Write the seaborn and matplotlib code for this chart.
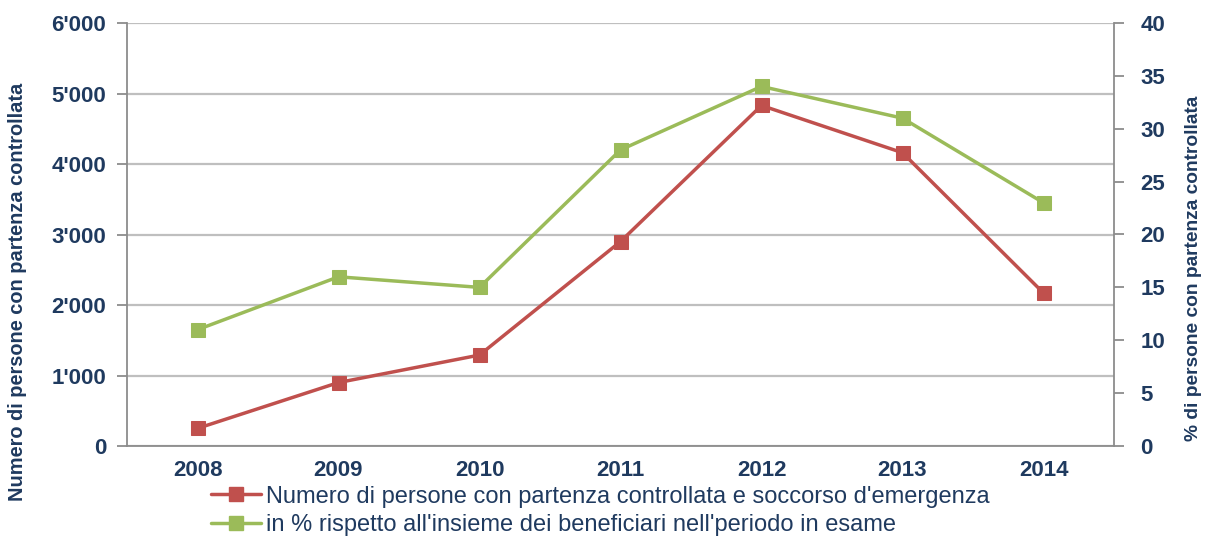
import matplotlib
matplotlib.use("Agg")
import matplotlib.pyplot as plt
from matplotlib import font_manager
from matplotlib.lines import Line2D
import seaborn as sns
import pandas as pd

# dati
years = ["2008", "2009", "2010", "2011", "2012", "2013", "2014"]
persone = [250, 900, 1290, 2900, 4830, 4160, 2170]
percentuale = [11, 16, 15, 28, 34, 31, 23]

left_ticks = [0, 1000, 2000, 3000, 4000, 5000, 6000]
left_ticklabels = ["0", "1'000", "2'000", "3'000", "4'000", "5'000", "6'000"]
right_ticks = [0, 5, 10, 15, 20, 25, 30, 35, 40]

label_persone = "Numero di persone con partenza controllata e soccorso d'emergenza"
label_perc = "in % rispetto all'insieme dei beneficiari nell'periodo in esame"
ylabel_left = "Numero di persone con partenza controllata"
ylabel_right = "% di persone con partenza controllata"

# stile
NAVY = "#1F3A5F"
RED = "#C0504D"
GREEN = "#9BBB59"
GRID = "#BFBFBF"
SPINE = "#8C8C8C"
TICK_FS = 16

sns.set_style("white")
plt.rcParams["font.family"] = ["Liberation Sans", "DejaVu Sans"]

installed = {f.name for f in font_manager.fontManager.ttflist}
narrow = "Liberation Sans Narrow" if "Liberation Sans Narrow" in installed else "Liberation Sans"

df = pd.DataFrame({"pos": range(len(years)), "anno": years,
                   "persone": persone, "perc": percentuale})

fig = plt.figure(figsize=(12.06, 5.36), dpi=100)
ax = fig.add_axes([127 / 1206, 1 - 446 / 536, (1114 - 127) / 1206, (446 - 23) / 536])
ax2 = ax.twinx()

sns.lineplot(data=df, x="pos", y="persone", ax=ax, color=RED, lw=2.5,
             marker="s", markersize=10, markeredgecolor=RED, legend=False)
sns.lineplot(data=df, x="pos", y="perc", ax=ax2, color=GREEN, lw=2.5,
             marker="s", markersize=10, markeredgecolor=GREEN, legend=False)

# assi
n = len(years)
ax.set_xlim(-0.5, n - 0.5)
ax.set_ylim(0, 6000)
ax2.set_ylim(0, 40)

ax.set_xticks([i - 0.5 for i in range(n + 1)])
ax.set_xticklabels([])
ax.set_xticks(range(n), minor=True)
ax.set_xticklabels(years, minor=True)
ax.tick_params(axis="x", which="major", length=7, width=1.3, color=SPINE, direction="out")
ax.tick_params(axis="x", which="minor", length=0, pad=10,
               labelsize=TICK_FS, labelcolor=NAVY)

ax.set_yticks(left_ticks)
ax.set_yticklabels(left_ticklabels)
ax.tick_params(axis="y", length=7, width=1.3, color=SPINE, direction="out",
               labelsize=TICK_FS, labelcolor=NAVY, pad=8)
ax2.set_yticks(right_ticks)
ax2.tick_params(axis="y", length=7, width=1.3, color=SPINE, direction="out",
                labelsize=TICK_FS, labelcolor=NAVY, pad=12)

for lab in ax.get_xticklabels(minor=True) + ax.get_yticklabels() + ax2.get_yticklabels():
    lab.set_fontweight("bold")

ax.yaxis.grid(True, color=GRID, lw=1.6)
ax.set_axisbelow(True)

for a in (ax, ax2):
    a.spines["top"].set_visible(False)
    for s in ("left", "right", "bottom"):
        a.spines[s].set_color(SPINE)
        a.spines[s].set_linewidth(1.3)
ax.spines["right"].set_visible(False)
ax2.spines["left"].set_visible(False)
ax2.spines["bottom"].set_visible(False)

ax.set_xlabel("")
ax.set_ylabel("")
ax2.set_ylabel("")

fig.text(18 / 1206, 1 - 292 / 536, ylabel_left, rotation=90, ha="center", va="center",
         fontsize=14.4, fontweight="bold", color=NAVY, family=narrow)
fig.text(1193 / 1206, 1 - 268 / 536, ylabel_right, rotation=90, ha="center", va="center",
         fontsize=13.8, fontweight="bold", color=NAVY, family=narrow)

# legenda
handles = [
    Line2D([], [], color=RED, lw=2.5, marker="s", markersize=10, markeredgecolor=RED),
    Line2D([], [], color=GREEN, lw=2.5, marker="s", markersize=10, markeredgecolor=GREEN),
]
leg = fig.legend(handles, [label_persone, label_perc], loc="center left",
                 bbox_to_anchor=(211 / 1206, 1 - 511 / 536), frameon=False,
                 fontsize=17, handlelength=2.1, handletextpad=0.25, labelspacing=0.28,
                 borderpad=0, borderaxespad=0)
for t in leg.get_texts():
    t.set_color(NAVY)

fig.savefig("out.png", dpi=100)
